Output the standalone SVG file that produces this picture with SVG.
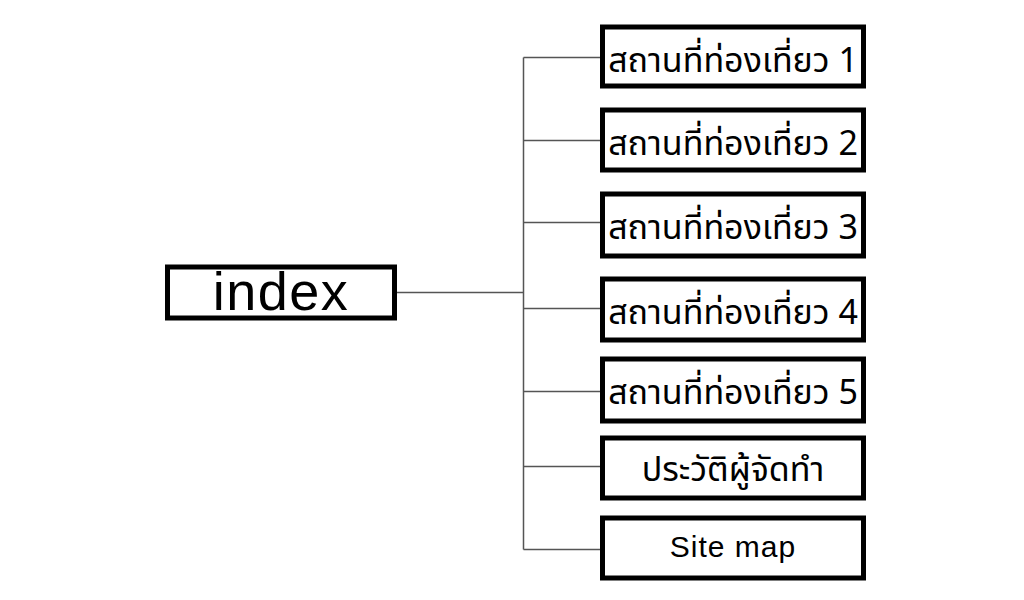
<svg xmlns="http://www.w3.org/2000/svg" width="1024" height="600" viewBox="0 0 1024 600">
<style>
.box{fill:#fff;stroke:#000;stroke-width:5}
.lbl{font-family:"Noto Sans Thai","Noto Sans","DejaVu Sans",sans-serif;font-size:34px;fill:#000;text-anchor:middle}
.conn{stroke:#555;stroke-width:1.5;fill:none}
</style>
<rect width="1024" height="600" fill="#fff"/>
<g id="connectors">
<path class="conn" d="M397 292.5H523.5M523.5 57.5V549.5M523.5 57.5H600M523.5 140.5H600M523.5 222.5H600M523.5 308.5H600M523.5 391.5H600M523.5 466.5H600M523.5 549.5H600"/>
</g>
<g id="index">
<rect class="box" x="167.5" y="267" width="227" height="51"/>
<text x="281" y="310" style="font-family:'Liberation Sans',sans-serif;font-size:54px;text-anchor:middle;letter-spacing:1.5px">index</text>
</g>
<g id="n1"><rect class="box" x="602.5" y="27" width="261" height="59"/><text class="lbl" x="733" y="72">สถานที่ท่องเที่ยว 1</text></g>
<g id="n2"><rect class="box" x="602.5" y="110" width="261" height="60"/><text class="lbl" x="733" y="155">สถานที่ท่องเที่ยว 2</text></g>
<g id="n3"><rect class="box" x="602.5" y="194" width="261" height="62"/><text class="lbl" x="733" y="239">สถานที่ท่องเที่ยว 3</text></g>
<g id="n4"><rect class="box" x="602.5" y="279" width="261" height="61"/><text class="lbl" x="733" y="324">สถานที่ท่องเที่ยว 4</text></g>
<g id="n5"><rect class="box" x="602.5" y="359" width="261" height="62"/><text class="lbl" x="733" y="404">สถานที่ท่องเที่ยว 5</text></g>
<g id="n6"><rect class="box" x="602.5" y="438" width="261" height="60"/><text class="lbl" x="733" y="481">ประวัติผู้จัดทำ</text></g>
<g id="n7"><rect class="box" x="602.5" y="518" width="261" height="60"/><text x="733" y="557" style="font-family:'Liberation Sans',sans-serif;font-size:30px;text-anchor:middle;letter-spacing:1px">Site map</text></g>
</svg>
